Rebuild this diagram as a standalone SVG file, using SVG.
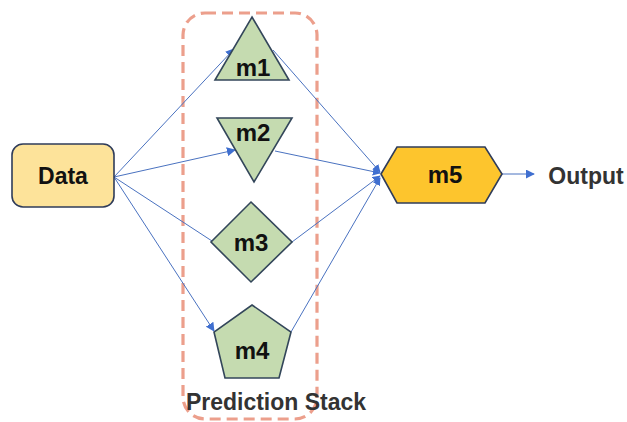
<svg xmlns="http://www.w3.org/2000/svg" width="627" height="422" viewBox="0 0 627 422">
  <style>
    .lbl { font-family: "Liberation Sans", Arial, sans-serif; font-weight: bold; font-size: 23px; fill: #111; text-anchor: middle; dominant-baseline: central; }
    .m { font-size: 24px; }
    .model { fill: #c5dbb0; stroke: #33465a; stroke-width: 1.6; }
    .edge { fill: none; stroke: #4a72c0; stroke-width: 1; }
  </style>
  <defs>
    <marker id="arrow" viewBox="0 0 10 10" refX="9" refY="5" markerWidth="9" markerHeight="9" markerUnits="userSpaceOnUse" orient="auto">
      <path d="M0,0 L10,5 L0,10 z" fill="#3f6fd0"/>
    </marker>
    <marker id="arrow-sm" viewBox="0 0 10 10" refX="9" refY="5" markerWidth="8" markerHeight="8" markerUnits="userSpaceOnUse" orient="auto">
      <path d="M0,0 L10,5 L0,10 z" fill="#3f6fd0"/>
    </marker>
  </defs>

  <rect id="stack-frame" x="183" y="13" width="134" height="406" rx="22" fill="none" stroke="#ec9f8c" stroke-width="3.2" stroke-dasharray="11 6"/>

  <g id="connectors">
    <line class="edge" x1="114" y1="177" x2="234" y2="49" marker-end="url(#arrow)"/>
    <line class="edge" x1="114" y1="177" x2="235" y2="150" marker-end="url(#arrow)"/>
    <line class="edge" x1="114" y1="177" x2="212" y2="241"/>
    <line class="edge" x1="114" y1="177" x2="214" y2="331" marker-end="url(#arrow)"/>
    <line class="edge" x1="273" y1="50" x2="380" y2="172" marker-end="url(#arrow-sm)"/>
    <line class="edge" x1="275" y1="151" x2="380" y2="173" marker-end="url(#arrow-sm)"/>
    <line class="edge" x1="292" y1="242" x2="380" y2="176" marker-end="url(#arrow-sm)"/>
    <line class="edge" x1="291" y1="332" x2="380" y2="178" marker-end="url(#arrow-sm)"/>
    <line class="edge" x1="502" y1="174" x2="534" y2="174" marker-end="url(#arrow)"/>
  </g>

  <g id="data">
    <rect x="12" y="144" width="102" height="63" rx="11" fill="#fde39a" stroke="#2f3c5a" stroke-width="1.6"/>
    <text class="lbl" x="63" y="176">Data</text>
  </g>

  <g id="m1">
    <polygon class="model" points="252,17 289,80 215,80"/>
    <text class="lbl m" x="253" y="67">m1</text>
  </g>

  <g id="m2">
    <polygon class="model" points="217,118 292,118 254,182"/>
    <text class="lbl m" x="253" y="132">m2</text>
  </g>

  <g id="m3">
    <polygon class="model" points="251,202 292,242 251,282 211,242"/>
    <text class="lbl m" x="251" y="242">m3</text>
  </g>

  <g id="m4">
    <polygon class="model" points="252,305 291,332 279,378 225,378 214,332"/>
    <text class="lbl m" x="252" y="350">m4</text>
  </g>

  <g id="m5">
    <polygon points="381,174 397,147 485,147 502,174 485,203 397,203" fill="#fdc52d" stroke="#2f3c5a" stroke-width="1.6"/>
    <text class="lbl m" x="445" y="174">m5</text>
  </g>

  <g id="output">
    <text class="lbl" x="586" y="176" style="fill:#333">Output</text>
  </g>

  <text class="lbl" x="276" y="402" style="fill:#333">Prediction Stack</text>
</svg>
